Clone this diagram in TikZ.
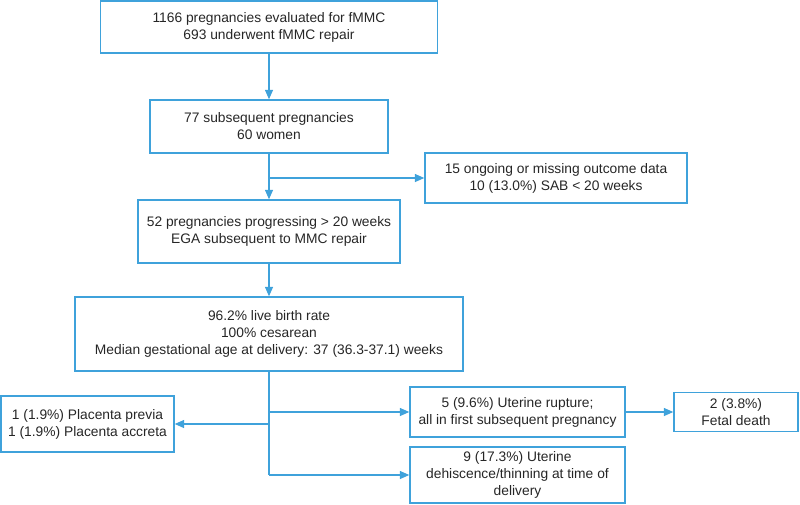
\documentclass[tikz,border=0pt]{standalone}
\usepackage{fontspec}
\setmainfont{Liberation Sans}
\usetikzlibrary{arrows.meta}
\definecolor{flowblue}{HTML}{3FA2DB}

\tikzset{
  box/.style={draw=flowblue, line width=1.4pt, align=center, inner sep=0pt,
    font=\fontsize{13.8}{17}\selectfont, text=black!85},
  link/.style={draw=flowblue, line width=1.4pt, -{Triangle[length=9.5pt,width=8pt]}},
  trunk/.style={draw=flowblue, line width=1.4pt},
}

\begin{document}
\begin{tikzpicture}[x=1pt,y=-1pt]
\useasboundingbox (0,0) rectangle (800,504);

\node[box, minimum width=337pt, minimum height=52pt] (eval) at (269,27)
  {1166 pregnancies evaluated for fMMC\\693 underwent fMMC repair};
\node[box, minimum width=238pt, minimum height=53pt] (subs) at (269,126.5)
  {77 subsequent pregnancies\\60 women};
\node[box, minimum width=262pt, minimum height=50pt] (excl) at (556,178)
  {15 ongoing or missing outcome data\\10 (13.0\%) SAB < 20 weeks};
\node[box, minimum width=262pt, minimum height=63pt] (prog) at (269,231.5)
  {52 pregnancies progressing > 20 weeks\\EGA subsequent to MMC repair};
\node[box, minimum width=388pt, minimum height=74pt] (outc) at (269,334)
  {96.2\% live birth rate\\100\% cesarean\\Median gestational age at delivery: 37 (36.3-37.1) weeks};

\node[box, minimum width=173pt, minimum height=56pt] (plac) at (87.5,424)
  {1 (1.9\%) Placenta previa\\1 (1.9\%) Placenta accreta};
\node[box, minimum width=215pt, minimum height=50pt] (rupt) at (517.5,412)
  {5 (9.6\%) Uterine rupture;\\all in first subsequent pregnancy};
\node[box, minimum width=124pt, minimum height=39pt] (fetal) at (736,412)
  {2 (3.8\%)\\Fetal death};
\node[box, minimum width=215pt, minimum height=56pt] (dehi) at (517.5,475)
  {9 (17.3\%) Uterine\\dehiscence/thinning at time of\\delivery};

% main line
\draw[link] (eval) -- (subs);
\draw[link] (subs) -- (prog);
\coordinate (split) at (subs.south |- excl.west);
\draw[link] (split) -- (excl.west);
\draw[link] (prog) -- (outc);

% outcomes
\coordinate (bend) at (outc.south |- dehi.west);
\draw[trunk] (outc.south) -- (bend);
\draw[link] (bend) -- (dehi.west);
\draw[link] (outc.south |- rupt.west) -- (rupt.west);
\draw[link] (outc.south |- plac.east) -- (plac.east);
\draw[link] (rupt.east) -- (fetal.west);

\end{tikzpicture}
\end{document}
